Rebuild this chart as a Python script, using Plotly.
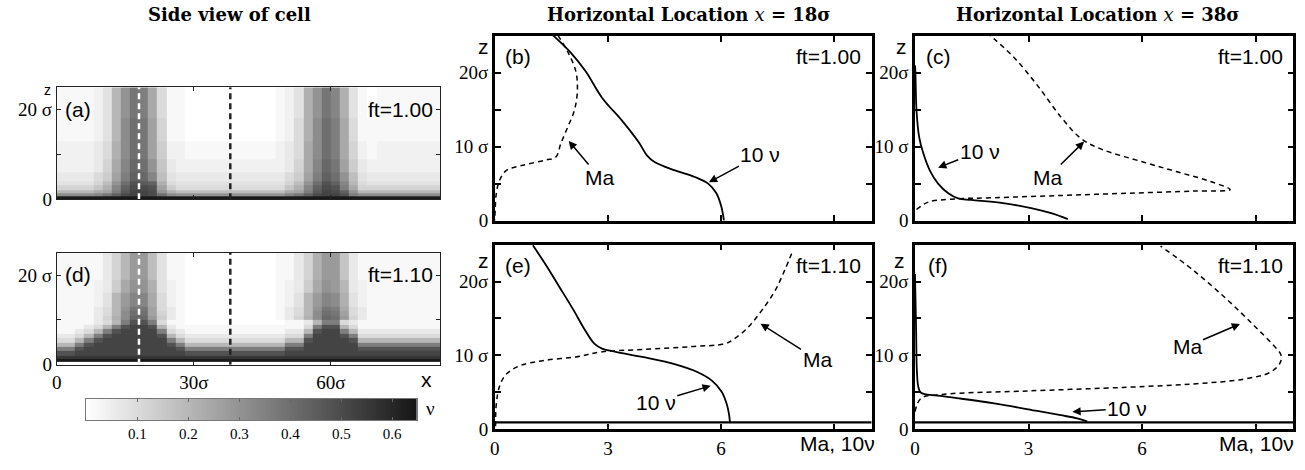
import plotly.graph_objects as go

W, H = 1305, 470

# ---------------- side view of the cell: nu on a 2-sigma column grid ----------------
cell_x_edges = list(range(0, 86, 2))               # 42 columns
cell_z_edges = [0, 0.6, 1.3] + list(range(2, 26))  # 26 rows
probe_x = [18, 38]                                 # sampling locations of the profiles
nu_max = 0.648

# shade codes: base-36 digit * 0.02 = nu ; rows listed bottom -> top
nu_side_ft100 = [
    "wwwwwwwwwwwwwwwwwwwwwwwwwwwwwwwwwwwwwwwwww",
    "gggg" "hjmpqqpkg" "ffffffffffff" "hjmpqqoig" "gggggggg",
    "aaaa" "cdinqqpfb" "999999999999" "cdinqpmfa" "aaaaaaaa",
    "6666" "8bhmppod7" "555555555555" "8bhmpoic6" "66666666",
    "4444" "69fkonmb5" "444444444444" "69fkomha5" "44444444",
    "3333" "57dimlh94" "333333333333" "57dimkf94" "33333333",
    "3333" "57dimlh94" "333333333333" "57dimkf94" "33333333",
    "2222" "36chlkf83" "222222222222" "36chljd73" "22222222",
    "2222" "36chlkf83" "222222222222" "36chljd73" "22222222",
    "2222" "36chlkf83" "222222222222" "36chljd73" "22222222",
    "2222" "35bgkjd72" "211111111112" "35cgkic62" "12222222",
    "2222" "35bgkjd72" "211111111112" "35cgkic62" "12222222",
    "2222" "35bgkjd72" "211111111112" "35cgkic62" "12222222",
    "2222" "35bgkjd72" "211111111112" "35cgkic62" "12222222",
    "1111" "24agkjd61" "100000000001" "25bgkic51" "11111111",
    "1111" "24agkjd61" "100000000001" "25bgkic51" "11111111",
    "1111" "24agkjd61" "100000000001" "25bgkic51" "11111111",
    "1111" "24agkjd61" "100000000001" "25bgkic51" "11111111",
    "1111" "24agkjd61" "100000000001" "25bgkic51" "11111111",
    "1111" "24afjic51" "100000000001" "24bfjhb41" "01111111",
    "1111" "24afjic51" "100000000001" "24bfjhb41" "01111111",
    "1111" "24afjic51" "100000000001" "24bfjhb41" "01111111",
    "1111" "24afjic51" "100000000001" "24bfjhb41" "01111111",
    "1111" "24afjic51" "100000000001" "24bfjhb41" "01111111",
    "1111" "24afjic51" "100000000001" "24bfjhb41" "01111111",
    "1111" "24afjic51" "100000000001" "24bfjhb41" "01111111",
]

nu_side_ft110 = [
    "000000000000000000000000000000000000000000",
    "wwwwwwwwwwwwwwwwwwwwwwwwwwwwwwwwwwwwwwwwww",
    "ssssssssssssssssssssssssssssssssssssssssss",
    "oo" "qqqqqqqqqqqq" "ooooooooooo" "qqqqqqqqqqqqqqqqq",
    "iio" "qqqqqqqqqq" "o" "iiiiiiiiiii" "oo" "qqqqqq" "ooooooooo",
    "aaio" "qqqqqqqq" "oi" "aaaaaaaaaaa" "ii" "qqqqqq" "iiiiiiiii",
    "55aio" "qqqqqqq" "ia" "55555555555" "aao" "qqqq" "oa" "aaaaaaaa",
    "335ai" "o" "qqqqq" "o" "a5" "33333333333" "55i" "qqq" "oi" "5" "55555555",
    "113" "5aio" "qqqq" "i53" "11111111111" "33ao" "qq" "ia3" "33333333",
    "111" "35aio" "qq" "oa3" "1" "11111111111" "11" "5ioo" "a5" "1" "11111111",
    "1111" "35aiooi5" "11" "00000000000" "113aii53" "1" "11111111",
    "1111" "36bglle73" "100000000001" "36bglke63" "11111111",
    "1111" "35agkkd63" "100000000001" "35agkjd53" "11111111",
    "1111" "35afjjd53" "100000000001" "35afjic53" "11111111",
    "1111" "24aehhc52" "100000000001" "24aehgb42" "11111111",
    "1111" "24aehhc52" "100000000001" "24aehgb42" "11111111",
    "1111" "24aehhc52" "100000000001" "24aehgb42" "11111111",
    "1111" "237cffb42" "100000000001" "237cfea32" "11111111",
    "1111" "237cffb42" "100000000001" "237cfea32" "11111111",
    "1111" "237cffb42" "100000000001" "237cfea32" "11111111",
    "1111" "136aee941" "100000000001" "136bee831" "11111111",
    "1111" "136aee941" "100000000001" "136bee831" "11111111",
    "1111" "136aee941" "100000000001" "136bee831" "11111111",
    "1111" "136aee941" "100000000001" "136bee831" "11111111",
    "1111" "136aee941" "100000000001" "136bee831" "11111111",
    "1111" "136aee941" "100000000001" "136bee831" "11111111",
]

# ---------------- vertical profiles (value on x, height z in sigma) ----------------
b_nu_x = [1.54, 2.02, 2.41, 2.85, 3.38, 3.82, 4.04, 4.25, 4.78, 5.31, 5.66, 5.88, 6.01, 6.08]
b_nu_z = [25.1, 22.7, 20.2, 16.6, 13.5, 10.6, 8.8, 7.9, 6.8, 5.9, 5.0, 3.7, 1.9, 0.0]
b_ma_x = [1.67, 1.93, 2.15, 2.19, 2.11, 1.93, 1.75, 1.62, 1.36, 0.75, 0.31, 0.13, 0.04, 0.01, 0.0]
b_ma_z = [25.1, 22.9, 20.2, 17.5, 14.9, 12.6, 10.4, 8.6, 8.2, 7.5, 6.8, 5.5, 3.7, 1.5, 0.0]

c_nu_x = [0.0, 0.01, 0.04, 0.11, 0.22, 0.39, 0.61, 0.88, 1.14, 1.49, 2.28, 3.07, 3.60, 4.04]
c_nu_z = [21.0, 20.2, 14.9, 11.3, 9.1, 6.8, 5.0, 3.7, 3.0, 2.8, 2.4, 1.7, 1.0, 0.2]
c_ma_x = [0.04, 0.35, 0.96, 2.10, 3.86, 5.61, 7.37, 8.33, 7.81, 6.93, 6.05, 4.91, 4.39, 3.86, 3.25, 2.63, 2.11, 1.97]
c_ma_z = [1.5, 2.5, 2.9, 3.1, 3.4, 3.7, 4.0, 4.2, 5.3, 6.6, 7.9, 9.7, 11.1, 14.0, 18.2, 22.0, 24.5, 25.1]

e_nu_x = [1.01, 1.36, 1.71, 2.07, 2.42, 2.64, 2.86, 3.21, 3.91, 4.79, 5.40, 5.76, 6.02, 6.15, 6.21, 6.24]
e_nu_z = [24.9, 22.2, 19.3, 16.3, 13.2, 11.6, 10.9, 10.5, 9.8, 8.8, 7.7, 6.6, 5.1, 3.5, 2.2, 0.97]
e_ma_x = [0.02, 0.04, 0.13, 0.31, 0.66, 1.27, 2.15, 2.86, 3.91, 5.23, 6.11, 6.37, 6.72, 7.07, 7.43, 7.69, 7.91]
e_ma_z = [0.44, 3.5, 5.9, 7.5, 8.6, 9.3, 9.8, 10.5, 10.8, 11.2, 11.6, 12.3, 13.8, 16.0, 18.7, 21.5, 24.2]

f_nu_x = [0.0, 0.03, 0.05, 0.09, 0.16, 0.77, 2.09, 3.23, 3.85, 4.29, 4.55]
f_nu_z = [21.0, 13.2, 7.9, 5.7, 4.97, 4.48, 3.52, 2.5, 1.93, 1.49, 1.1]
f_ma_x = [0.0, 0.16, 0.77, 2.97, 5.60, 7.36, 8.68, 9.38, 9.65, 9.67, 9.47, 8.95, 8.24, 7.36, 6.49]
f_ma_z = [2.4, 4.2, 4.75, 5.2, 5.7, 6.15, 6.8, 7.7, 9.0, 10.1, 11.4, 14.1, 17.6, 21.5, 24.8]

floor_z = 0.95      # bottom wall height at ft = 1.10
floor_x = [0, 10]

cbar_ticks = [0.1, 0.2, 0.3, 0.4, 0.5, 0.6]

SERIF = "Liberation Serif, Times New Roman, serif"
SANS = "Liberation Sans, Arial, sans-serif"
GRAYS = [[0.0, "#ffffff"], [1.0, "#161616"]]


def decode(rows):
    grid = []
    for r in rows:
        assert len(r) == 42, r
        grid.append([int(c, 36) * 0.02 for c in r])
    return grid


def dx(l, r):
    return [l / W, r / W]


def dy(t, b):
    return [1 - b / H, 1 - t / H]


fig = go.Figure()

# ---- heatmaps (a) and (d)
for grid_rows, ax in [(nu_side_ft100, "1"), (nu_side_ft110, "4")]:
    xa = "x" if ax == "1" else "x" + ax
    ya = "y" if ax == "1" else "y" + ax
    fig.add_trace(go.Heatmap(x=cell_x_edges, y=cell_z_edges, z=decode(grid_rows),
                             colorscale=GRAYS, zmin=0, zmax=nu_max, showscale=False,
                             hoverinfo="skip", xaxis=xa, yaxis=ya))
    fig.add_trace(go.Scatter(x=[probe_x[0]] * 2, y=[0, 25], mode="lines",
                             line=dict(color="white", width=2.5, dash="6px,4px"),
                             showlegend=False, xaxis=xa, yaxis=ya))
    fig.add_trace(go.Scatter(x=[probe_x[1]] * 2, y=[0, 25], mode="lines",
                             line=dict(color="#222", width=2.5, dash="6px,4px"),
                             showlegend=False, xaxis=xa, yaxis=ya))

# ---- profile panels
profiles = [
    ("2", b_nu_x, b_nu_z, b_ma_x, b_ma_z, False),
    ("3", c_nu_x, c_nu_z, c_ma_x, c_ma_z, False),
    ("5", e_nu_x, e_nu_z, e_ma_x, e_ma_z, True),
    ("6", f_nu_x, f_nu_z, f_ma_x, f_ma_z, True),
]
for ax, nx, nz, mx, mz, has_floor in profiles:
    fig.add_trace(go.Scatter(x=mx, y=mz, mode="lines", line=dict(color="black", width=1.5, dash="5px,4px"),
                             line_shape="spline", showlegend=False, xaxis="x" + ax, yaxis="y" + ax))
    fig.add_trace(go.Scatter(x=nx, y=nz, mode="lines", line=dict(color="black", width=1.8),
                             line_shape="spline", showlegend=False, xaxis="x" + ax, yaxis="y" + ax))
    if has_floor:
        fig.add_trace(go.Scatter(x=floor_x, y=[floor_z] * 2, mode="lines",
                                 line=dict(color="black", width=2.2),
                                 showlegend=False, xaxis="x" + ax, yaxis="y" + ax))

# ---- colour bar as its own strip
bar_vals = [i * nu_max / 299 for i in range(300)]
fig.add_trace(go.Heatmap(x=bar_vals, y=[0, 1], z=[bar_vals, bar_vals], colorscale=GRAYS,
                         zmin=0, zmax=nu_max, showscale=False, hoverinfo="skip",
                         xaxis="x7", yaxis="y7"))

tickfont = dict(family=SERIF, size=19, color="black")

side_x = dict(range=[0, 84], showline=True, linecolor="#222", linewidth=1, mirror="ticks",
              ticks="inside", ticklen=4, tickcolor="#222", tickvals=[30, 60], showgrid=False,
              zeroline=False, tickfont=tickfont)
side_y = dict(range=[0, 25], showline=True, linecolor="#222", linewidth=1, mirror="ticks",
              ticks="inside", ticklen=4, tickcolor="#222", tickvals=[0, 10, 20],
              ticktext=["0", "", "20 σ"], showgrid=False, zeroline=False, tickfont=tickfont)

prof_x = dict(range=[0, 10], showline=True, linecolor="black", linewidth=2.5, mirror="ticks",
              ticks="inside", ticklen=6, tickwidth=2, tickcolor="black", tickvals=[0, 3, 6, 9],
              ticktext=["0", "3", "6", ""], showgrid=False, zeroline=False, tickfont=tickfont)
prof_y = dict(range=[0, 25], showline=True, linecolor="black", linewidth=2.5, mirror="ticks",
              ticks="inside", ticklen=6, tickwidth=2, tickcolor="black", tickvals=[0, 5, 10, 15, 20],
              ticktext=["0", "", "10 σ", "", "20σ"], showgrid=False, zeroline=False, tickfont=tickfont)

layout = dict(
    width=W, height=H, margin=dict(l=0, r=0, t=0, b=0),
    paper_bgcolor="white", plot_bgcolor="white", showlegend=False,
    xaxis=dict(side_x, domain=dx(52, 437), showticklabels=False, anchor="y"),
    yaxis=dict(side_y, domain=dy(89.4, 204), anchor="x"),
    xaxis4=dict(side_x, domain=dx(52, 437), tickvals=[0, 30, 60], ticktext=["0", "30σ", "60σ"], anchor="y4"),
    yaxis4=dict(side_y, domain=dy(258.9, 373.5), anchor="x4"),
    xaxis2=dict(prof_x, domain=dx(491.7, 870), showticklabels=False, anchor="y2"),
    yaxis2=dict(prof_y, domain=dy(36.7, 225.9), anchor="x2"),
    xaxis3=dict(prof_x, domain=dx(913.5, 1293.3), showticklabels=False, anchor="y3"),
    yaxis3=dict(prof_y, domain=dy(36.7, 225.9), anchor="x3"),
    xaxis5=dict(prof_x, domain=dx(491.7, 870), anchor="y5"),
    yaxis5=dict(prof_y, domain=dy(250.4, 439.7), anchor="x5"),
    xaxis6=dict(prof_x, domain=dx(913.5, 1293.3), anchor="y6"),
    yaxis6=dict(prof_y, domain=dy(250.4, 439.7), anchor="x6"),
    xaxis7=dict(domain=dx(81.7, 413.3), range=[0, nu_max], anchor="y7", showline=True, linecolor="#777",
                linewidth=1, mirror="ticks", ticks="inside", ticklen=3, tickcolor="#666", tickvals=cbar_ticks,
                ticktext=[f"{v:.1f}" for v in cbar_ticks], tickfont=dict(family=SERIF, size=15, color="black"),
                showgrid=False, zeroline=False),
    yaxis7=dict(domain=dy(408.3, 430), range=[0, 1], anchor="x7", showline=True, linecolor="#777",
                linewidth=1, mirror=True, showticklabels=False, ticks="", showgrid=False, zeroline=False),
)
fig.update_layout(**layout)

ann = []
sans = dict(family=SANS, size=21, color="black")


def paper_text(text, px, py, font=sans, **kw):
    ann.append(dict(text=text, x=px / W, y=1 - py / H, xref="paper", yref="paper",
                    showarrow=False, font=font, xanchor="center", yanchor="middle", **kw))


def data_text(text, ax, x, y):
    ann.append(dict(text=text, x=x, y=y, xref="x" + ax, yref="y" + ax, showarrow=False,
                    font=sans, xanchor="center", yanchor="middle"))


def arrow_text(text, ax, tx, ty, hx, hy):
    ann.append(dict(text=text, x=hx, y=hy, ax=tx, ay=ty, xref="x" + ax, yref="y" + ax,
                    axref="x" + ax, ayref="y" + ax, showarrow=True, arrowhead=2, arrowsize=1.1,
                    arrowwidth=1.5, arrowcolor="black", font=sans, standoff=0))


title_font = dict(family="DejaVu Serif", size=18, color="black")
paper_text("<b>Side view of cell</b>", 225, 15, font=title_font)
paper_text("<b>Horizontal Location </b><i>x</i><b> = 18σ</b>", 687, 15, font=title_font)
paper_text("<b>Horizontal Location </b><i>x</i><b> = 38σ</b>", 1097, 15, font=title_font)

# heatmap panel labels
paper_text("(a)", 73, 112)
paper_text("ft=1.00", 397, 112)
paper_text("(d)", 73, 281)
paper_text("ft=1.10", 397, 281)
paper_text("z", 43, 92, font=dict(family=SANS, size=14, color="black"))
paper_text("x", 423, 389, font=dict(family=SANS, size=21, color="black"))
paper_text("ν", 427, 418, font=dict(family=SERIF, size=19, color="black"))

# z labels on profile panels
paper_text("z", 480, 48)
paper_text("z", 900, 48)
paper_text("z", 480, 267)
paper_text("z", 898, 267)
paper_text("Ma, 10ν", 836, 454, font=sans)
paper_text("Ma, 10ν", 1256, 454, font=sans)

for ax, tag, ft in [("2", "(b)", "ft=1.00"), ("3", "(c)", "ft=1.00"), ("5", "(e)", "ft=1.10"), ("6", "(f)", "ft=1.10")]:
    data_text(tag, ax, 0.62, 22.2)
    data_text(ft, ax, 8.86, 22.2)

arrow_text("Ma", "2", 2.78, 5.84, 1.96, 10.78)
arrow_text("10 ν", "2", 7.05, 8.93, 5.68, 5.18)
arrow_text("10 ν", "3", 1.71, 9.37, 0.61, 7.16)
arrow_text("Ma", "3", 3.5, 5.84, 4.47, 10.69)
arrow_text("Ma", "5", 8.55, 9.46, 7.05, 14.3)
arrow_text("10 ν", "5", 4.27, 3.7, 5.73, 5.9)
arrow_text("Ma", "6", 7.19, 11.19, 8.59, 14.27)
arrow_text("10 ν", "6", 5.61, 2.83, 4.16, 2.38)

fig.update_layout(annotations=ann)
fig.write_html("out.html")
